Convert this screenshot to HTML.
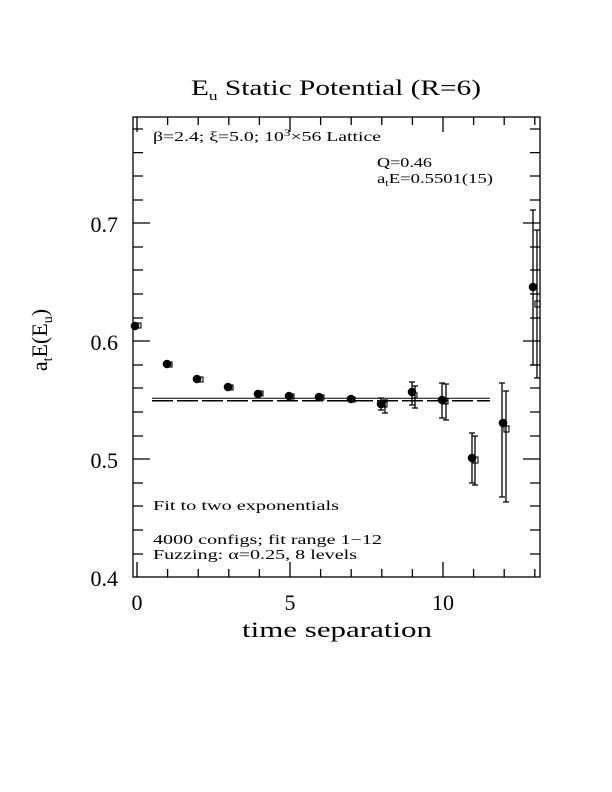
<!DOCTYPE html>
<html><head><style>body{margin:0;background:#fff}svg{display:block}text{font-family:"Liberation Serif",serif;fill:#000}</style></head>
<body>
<svg width="612" height="792" xmlns="http://www.w3.org/2000/svg">
<text x="336" y="95" font-size="22" text-anchor="middle" textLength="290" lengthAdjust="spacingAndGlyphs">E<tspan font-size="13" dy="5">u</tspan><tspan dy="-5"> Static Potential (R=6)</tspan></text>
<g stroke="#000" stroke-width="1.3" fill="none">
<rect x="133" y="117" width="407" height="460"/>
<path d="M133 223h17M133 341h17M133 459h17M540 223h-17M540 341h-17M540 459h-17"/>
<path d="M133 129h10M133 152.6h10M133 176h10M133 200h10M133 247h10M133 270h10M133 294h10M133 318h10M133 365h10M133 388h10M133 412h10M133 436h10M133 483h10M133 506h10M133 530h10M133 554h10"/>
<path d="M540 129h-10M540 152.6h-10M540 176h-10M540 200h-10M540 247h-10M540 270h-10M540 294h-10M540 318h-10M540 365h-10M540 388h-10M540 412h-10M540 436h-10M540 483h-10M540 506h-10M540 530h-10M540 554h-10"/>
<path d="M137 117v15M290 117v15M443 117v15M137 577v-15M290 577v-15M443 577v-15"/>
<path d="M167.6 117v8M198.2 117v8M228.8 117v8M259.4 117v8M320.6 117v8M351.2 117v8M381.8 117v8M412.4 117v8M473.6 117v8M504.2 117v8M534.8 117v8"/>
<path d="M167.6 577v-8M198.2 577v-8M228.8 577v-8M259.4 577v-8M320.6 577v-8M351.2 577v-8M381.8 577v-8M412.4 577v-8M473.6 577v-8M504.2 577v-8M534.8 577v-8"/>
<path d="M152 398.3H490" stroke-width="1"/>
<path d="M152 400.8H490" stroke-width="1.5" stroke-dasharray="21,4"/>
<path d="M381 398v12M378 398h6M378 410h6M412 382v23M409 382h6M409 405h6M442 383v35M439 383h6M439 418h6M472 433v50M469 433h6M469 483h6M502 383v114M499 383h6M499 497h6M533 210v155M530 210h6M530 365h6"/>
<path d="M385 400v13M382 400h6M382 413h6M415 386v22M412 386h6M412 408h6M446 384v36M443 384h6M443 420h6M475 436v49M472 436h6M472 485h6M506 391v111M503 391h6M503 502h6M537 230v148M534 230h6M534 378h6"/>
<g stroke-width="1.1">
<rect x="136" y="323" width="5" height="5"/><rect x="167" y="362" width="5" height="5"/><rect x="198" y="377" width="5" height="5"/><rect x="228" y="385" width="5" height="5"/><rect x="258" y="391" width="5" height="5"/><rect x="289" y="394" width="5" height="5"/><rect x="319" y="395" width="5" height="5"/><rect x="350" y="397" width="5" height="5"/><rect x="382" y="402" width="5" height="5"/><rect x="412" y="393" width="5" height="5"/><rect x="443" y="399" width="5" height="5"/><rect x="473" y="457" width="5" height="6"/><rect x="504" y="426" width="5" height="6"/><rect x="535" y="301" width="5" height="6"/>
</g>
</g>
<g fill="#000">
<circle cx="135" cy="326" r="4.3"/><circle cx="167" cy="364" r="4.3"/><circle cx="197" cy="379" r="4.3"/><circle cx="228" cy="387" r="4.3"/><circle cx="258" cy="394" r="4.3"/><circle cx="289" cy="396" r="4.3"/><circle cx="319" cy="397" r="4.3"/><circle cx="351" cy="399" r="4.3"/><circle cx="381" cy="404" r="4.3"/><circle cx="412" cy="392" r="4.3"/><circle cx="442" cy="400" r="4.3"/><circle cx="472" cy="458" r="4.3"/><circle cx="503" cy="423" r="4.3"/><circle cx="533" cy="287" r="4.3"/>
</g>
<g font-size="13.5">
<text x="153" y="141" textLength="228" lengthAdjust="spacingAndGlyphs">β=2.4; ξ=5.0; 10<tspan font-size="9" dy="-5">3</tspan><tspan dy="5">×56 Lattice</tspan></text>
<text x="377" y="167" textLength="55" lengthAdjust="spacingAndGlyphs">Q=0.46</text>
<text x="377" y="183" textLength="116" lengthAdjust="spacingAndGlyphs">a<tspan font-size="9" dy="3">t</tspan><tspan dy="-3">E=0.5501(15)</tspan></text>
<text x="153" y="510" textLength="186" lengthAdjust="spacingAndGlyphs">Fit to two exponentials</text>
<text x="153" y="544" textLength="229" lengthAdjust="spacingAndGlyphs">4000 configs; fit range 1−12</text>
<text x="153" y="559" textLength="204" lengthAdjust="spacingAndGlyphs">Fuzzing: α=0.25, 8 levels</text>
</g>
<g font-size="22" text-anchor="end">
<text x="118" y="232">0.7</text><text x="118" y="350">0.6</text><text x="118" y="468">0.5</text><text x="118" y="586">0.4</text>
</g>
<g font-size="22" text-anchor="middle">
<text x="137" y="610">0</text><text x="290" y="610">5</text><text x="443" y="610">10</text>
<text x="337" y="637" textLength="190" lengthAdjust="spacingAndGlyphs">time separation</text>
</g>
<text transform="translate(47,340) rotate(-90)" font-size="22" text-anchor="middle">a<tspan font-size="14" dy="5">t</tspan><tspan dy="-5">E(E</tspan><tspan font-size="14" dy="5">u</tspan><tspan dy="-5">)</tspan></text>
</svg>
</body></html>
